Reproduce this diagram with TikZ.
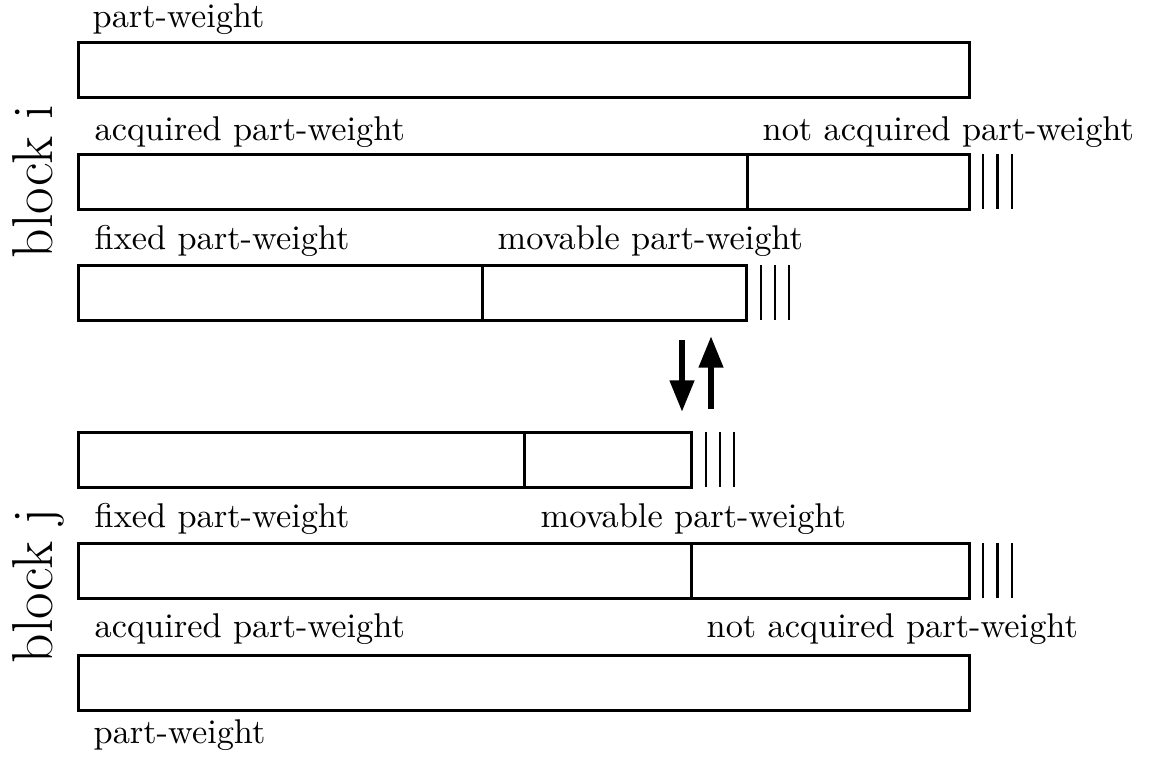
\documentclass[tikz,border=0pt]{standalone}
\usetikzlibrary{arrows.meta}
\begin{document}
\begin{tikzpicture}[x=0.3pt,y=-0.3pt,
  bar/.style={draw,line width=0.9pt},
  tick/.style={line width=0.8pt},
  lbl/.style={anchor=base west,inner sep=0pt,font=\fontsize{10.3}{12}\selectfont},
  blk/.style={anchor=base west,inner sep=0pt,rotate=90,font=\fontsize{17.3}{20}\selectfont},
  flow/.style={line width=1.9pt,-{Triangle[width=7pt,length=9.5pt]}}]
\useasboundingbox (0,0) rectangle (1152,762);

% block i
\node[blk] (bi) at (52,259) {block i};
\node[lbl] (pw1) at (92,27) {part-weight};
\draw[bar] (78,42) rectangle (969,97);

\node[lbl] (aq1) at (94,140) {acquired part-weight};
\node[lbl] (naq1) at (762,140) {not acquired part-weight};
\draw[bar] (78,154) rectangle (969,209);
\draw[bar] (747,154) -- (747,209);
\foreach \x in {983,997.5,1012} \draw[tick] (\x,154) -- (\x,209);

\node[lbl] (fx1) at (94,249) {fixed part-weight};
\node[lbl] (mv1) at (497,249) {movable part-weight};
\draw[bar] (78,265) rectangle (746,320);
\draw[bar] (482,265) -- (482,320);
\foreach \x in {761,775,789} \draw[tick] (\x,265) -- (\x,320);

% exchange of movable part-weight
\coordinate (dn0) at (682,340);
\coordinate (dn1) at (682,412);
\coordinate (up0) at (711,409);
\coordinate (up1) at (711,336);
\draw[flow] (dn0) -- (dn1);
\draw[flow] (up0) -- (up1);

% block j
\draw[bar] (78,432) rectangle (691,487);
\draw[bar] (524,432) -- (524,487);
\foreach \x in {706,720,734} \draw[tick] (\x,432) -- (\x,487);

\node[blk] (bj) at (52,664) {block j};
\node[lbl] (fx2) at (94,527) {fixed part-weight};
\node[lbl] (mv2) at (540,527) {movable part-weight};
\draw[bar] (78,543) rectangle (969,598);
\draw[bar] (691,543) -- (691,598);
\foreach \x in {983,997.5,1012} \draw[tick] (\x,543) -- (\x,598);

\node[lbl] (aq2) at (94,637) {acquired part-weight};
\node[lbl] (naq2) at (706,637) {not acquired part-weight};
\draw[bar] (78,655) rectangle (969,710);
\node[lbl] (pw2) at (93,743) {part-weight};
\end{tikzpicture}
\end{document}
